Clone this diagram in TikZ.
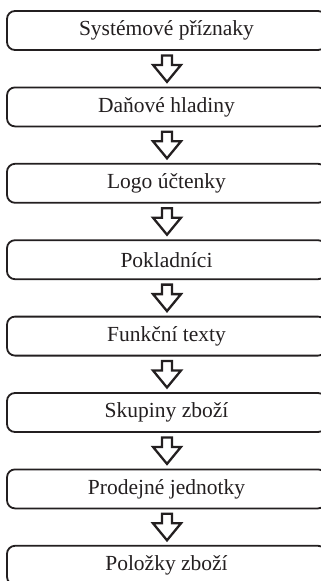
\documentclass[tikz,border=0pt]{standalone}
\usepackage{fontspec}
\setmainfont{Liberation Serif}
\usetikzlibrary{calc}
\definecolor{ink}{HTML}{231F20}
\tikzset{
  stepbox/.style={draw=ink, line width=1.8pt, rounded corners=8pt, fill=white,
    minimum width=319pt, minimum height=39pt, inner sep=0pt,
    font=\fontsize{21.5}{24}\selectfont, text=ink},
  fatarrow/.style={draw=ink, line width=2.3pt, fill=white, line join=miter}
}
\newcommand\fatarrowdraw[2]{%
  \draw[fatarrow] ($(#1.south)+(-4.5,4.5)$) -- ($(#1.south)+(5.5,4.5)$) -- ($(#1.south)+(5.5,14)$)
    -- ($(#1.south)+(14.5,14)$) -- ($(#1.south)+(0.5,31)$) -- ($(#1.south)+(-13.5,14)$)
    -- ($(#1.south)+(-4.5,14)$) -- cycle;}
\begin{document}
\begin{tikzpicture}[x=1pt,y=-1pt]
\useasboundingbox (0,0) rectangle (321,581);
\clip (0,0) rectangle (321,581);
\node[stepbox] (b1) at (166.5,30.5) {Systémové příznaky};
\node[stepbox] (b2) at (166.5,106.9) {Daňové hladiny};
\node[stepbox] (b3) at (166.5,183.3) {Logo účtenky};
\node[stepbox] (b4) at (166.5,259.7) {Pokladníci};
\node[stepbox] (b5) at (166.5,336.1) {Funkční texty};
\node[stepbox] (b6) at (166.5,412.5) {Skupiny zboží};
\node[stepbox] (b7) at (166.5,488.9) {Prodejné jednotky};
\node[stepbox] (b8) at (166.5,565.3) {Položky zboží};
\fatarrowdraw{b1}{b2}
\fatarrowdraw{b2}{b3}
\fatarrowdraw{b3}{b4}
\fatarrowdraw{b4}{b5}
\fatarrowdraw{b5}{b6}
\fatarrowdraw{b6}{b7}
\fatarrowdraw{b7}{b8}
\end{tikzpicture}
\end{document}
